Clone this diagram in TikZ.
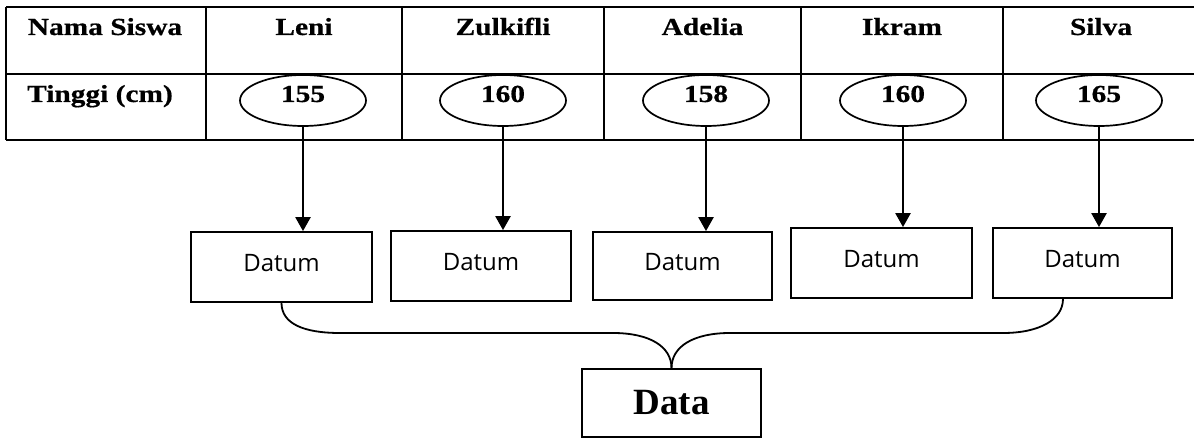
\documentclass[tikz,border=0pt]{standalone}
\usepackage{fontspec}
\newfontfamily\headfont[FakeStretch=1.2,FakeBold=0.6]{Liberation Serif}
\newfontfamily\datafont{Liberation Serif}
\newfontfamily\datumfont{Open Sans}
\usetikzlibrary{shapes.geometric,arrows.meta}

\begin{document}
\begin{tikzpicture}[x=1pt,y=-1pt,
        grid/.style={line width=2.4pt},
        head/.style={anchor=base,font=\headfont\bfseries\fontsize{24.5}{28}\selectfont},
        value/.style={ellipse,draw,line width=1.7pt,minimum width=126pt,minimum height=51pt,
            inner sep=0pt,text height=16pt,text depth=13pt,
            font=\headfont\bfseries\fontsize{24.5}{28}\selectfont},
        datum/.style={draw,line width=1.8pt,inner sep=0pt,text height=18pt,text depth=9pt,
            font=\datumfont\fontsize{24}{28}\selectfont},
        link/.style={line width=2.4pt,-{Triangle[length=14pt,width=15pt]}},
        brace/.style={line width=1.8pt}]
        \useasboundingbox (0,0) rectangle (1194,438);
        % table
        \foreach \y in {7, 74, 140} {
            \draw[grid] (6,\y) -- (1194,\y);
        }
        \foreach \x in {6, 206, 402, 604, 801, 1003} {
            \draw[grid] (\x,7) -- (\x,140);
        }
        \node[head] (nama) at (105,35) {Nama Siswa};
        \node[head] (tinggi) at (100,102) {Tinggi (cm)};
        \foreach \nm/\cx/\val/\ex/\bx/\by/\bw/\bh [count=\i] in {
                Leni/304/155/303/281.5/267/181/70,
                Zulkifli/503/160/503/481/266/180/70,
                Adelia/702.5/158/706/682.5/266/179/68,
                Ikram/902/160/903/881.5/263/181/70,
                Silva/1101/165/1099/1082.5/263/179/70} {
            \node[head] (n\i) at (\cx,35) {\nm};
            \node[value] (v\i) at (\ex,100.5) {\val};
            \node[datum,minimum width=\bw pt,minimum height=\bh pt] (d\i) at (\bx,\by) {Datum};
            \draw[link] (v\i.south) -- (v\i.south |- d\i.north);
        }
        \node[draw,line width=1.8pt,minimum width=179pt,minimum height=68pt,inner sep=0pt,
            font=\datafont\bfseries\fontsize{37}{40}\selectfont] (data) at (671.5,403) {Data};
        % curly join
        \draw[brace] (d1.south) .. controls +(0,21) and +(-36,0) .. (340,333)
            -- (613,333) .. controls +(36,0) and +(0,-22) .. (data.north);
        \draw[brace] ([xshift=-19.5pt]d5.south) .. controls +(0,21) and +(36,0) .. (1003,333)
            -- (730,333) .. controls +(-36,0) and +(0,-22) .. (data.north);
\end{tikzpicture}
\end{document}
